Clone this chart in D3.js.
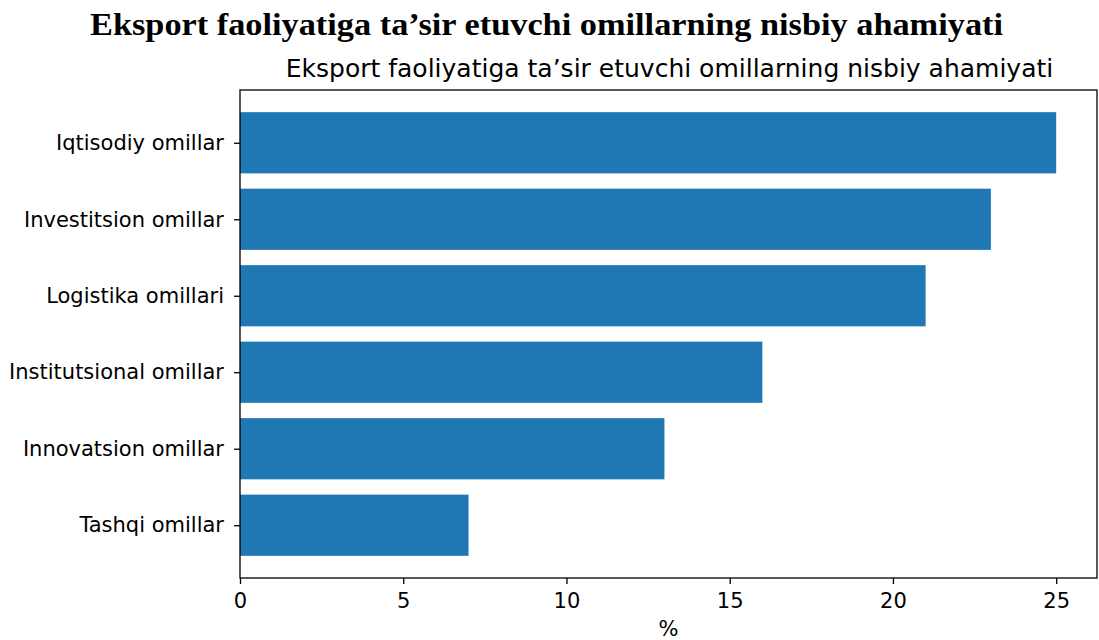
<!DOCTYPE html>
<html>
<head>
<meta charset="utf-8">
<script src="https://cdn.jsdelivr.net/npm/d3@7"></script>
<style>
  html, body { margin: 0; padding: 0; background: #fff; }
  svg { display: block; }
</style>
</head>
<body>
<svg id="chart" width="1099" height="640"></svg>
<script>
const categories = ["Iqtisodiy omillar", "Investitsion omillar", "Logistika omillari", "Institutsional omillar", "Innovatsion omillar", "Tashqi omillar"];
const values = [25, 23, 21, 16, 13, 7];
const xTicks = [0, 5, 10, 15, 20, 25];
const outerTitle = "Eksport faoliyatiga ta’sir etuvchi omillarning nisbiy ahamiyati";
const innerTitle = "Eksport faoliyatiga ta’sir etuvchi omillarning nisbiy ahamiyati";
const xLabel = "%";

const svg = d3.select("#chart");
const L = 240, R = 1097, T = 90, B = 578;

const x = d3.scaleLinear().domain([0, 26.25]).range([L, R]);
const y = d3.scaleLinear().domain([-0.69, 5.69]).range([T, B]);
const barH = 0.8;

// outer title
svg.append("text")
  .attr("x", 90).attr("y", 35)
  .attr("font-family", "'Liberation Serif', serif")
  .attr("font-weight", "bold")
  .attr("font-size", 31)
  .attr("textLength", 913)
  .attr("lengthAdjust", "spacingAndGlyphs")
  .attr("fill", "#000")
  .text(outerTitle);

// inner title
svg.append("text")
  .attr("x", (L + R) / 2 + 1).attr("y", 77)
  .attr("text-anchor", "middle")
  .attr("font-family", "'DejaVu Sans', sans-serif")
  .attr("font-size", 25)
  .attr("fill", "#000")
  .text(innerTitle);

// bars
svg.append("g").selectAll("rect")
  .data(values)
  .join("rect")
  .attr("x", x(0))
  .attr("y", (d, i) => y(i - barH / 2))
  .attr("width", d => x(d) - x(0))
  .attr("height", y(barH) - y(0))
  .attr("fill", "#1f77b4");

// frame
svg.append("rect")
  .attr("x", L).attr("y", T)
  .attr("width", R - L).attr("height", B - T)
  .attr("fill", "none")
  .attr("stroke", "#000")
  .attr("stroke-width", 1.3);

// x axis
const xAxis = d3.axisBottom(x).tickValues(xTicks).tickSize(6).tickPadding(9).tickFormat(d3.format("d"));
const gx = svg.append("g").attr("transform", `translate(0,${B})`).call(xAxis);
gx.select(".domain").remove();
gx.selectAll("line").attr("stroke", "#000").attr("stroke-width", 1.3);
gx.selectAll("text").attr("font-family", "'DejaVu Sans', sans-serif").attr("font-size", 21).attr("fill", "#000");

// y axis
const yAxis = d3.axisLeft(y).tickValues(d3.range(categories.length)).tickSize(6).tickPadding(10).tickFormat(i => categories[i]);
const gy = svg.append("g").attr("transform", `translate(${L},0)`).call(yAxis);
gy.select(".domain").remove();
gy.selectAll("line").attr("stroke", "#000").attr("stroke-width", 1.3);
gy.selectAll("text").attr("font-family", "'DejaVu Sans', sans-serif").attr("font-size", 21).attr("fill", "#000");

// x label
svg.append("text")
  .attr("x", (L + R) / 2).attr("y", 636)
  .attr("text-anchor", "middle")
  .attr("font-family", "'DejaVu Sans', sans-serif")
  .attr("font-size", 21)
  .attr("fill", "#000")
  .text(xLabel);
</script>
</body>
</html>
